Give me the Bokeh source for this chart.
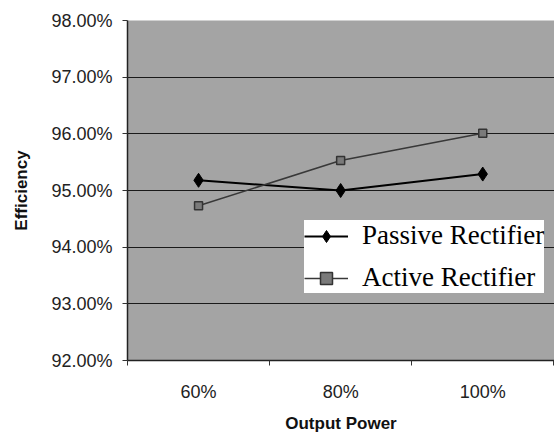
from bokeh.plotting import figure
from bokeh.models import FixedTicker, PrintfTickFormatter, Range1d, Legend, LegendItem
from bokeh.embed import file_html
from bokeh.resources import INLINE

output_power = [60, 80, 100]
power_labels = ["60%", "80%", "100%"]
passive = [95.18, 95.00, 95.29]
active = [94.73, 95.53, 96.01]
y_ticks = [92, 93, 94, 95, 96, 97, 98]

p = figure(width=554, height=437, output_backend="svg", toolbar_location=None,
           x_range=Range1d(50, 110.1), y_range=Range1d(92, 98),
           min_border_left=127, min_border_top=20, min_border_bottom=77, min_border_right=0)

p.background_fill_color = "#a4a4a4"
p.border_fill_color = "white"
p.outline_line_color = None

# y axis
p.yaxis.ticker = FixedTicker(ticks=y_ticks, minor_ticks=[])
p.yaxis.formatter = PrintfTickFormatter(format="%.2f%%")
p.yaxis.axis_label = "Efficiency"
p.yaxis.axis_label_text_font = "Liberation Sans"
p.yaxis.axis_label_text_font_style = "bold"
p.yaxis.axis_label_text_font_size = "17px"
p.yaxis.axis_label_text_color = "#111111"
p.yaxis.axis_label_standoff = 17
p.yaxis.major_label_text_font = "Liberation Sans"
p.yaxis.major_label_text_font_size = "18px"
p.yaxis.major_label_text_color = "#222222"
p.yaxis.major_label_standoff = 10
p.yaxis.major_tick_out = 5
p.yaxis.major_tick_in = 0
p.yaxis.major_tick_line_color = "#333333"
p.yaxis.axis_line_color = "#222222"
p.yaxis.axis_line_width = 1.5

# x axis
p.xaxis.ticker = FixedTicker(ticks=output_power, minor_ticks=[50, 70, 90, 110])
p.xaxis.major_label_overrides = {v: l for v, l in zip(output_power, power_labels)}
p.xaxis.axis_label = "Output Power"
p.xaxis.axis_label_text_font = "Liberation Sans"
p.xaxis.axis_label_text_font_style = "bold"
p.xaxis.axis_label_text_font_size = "17px"
p.xaxis.axis_label_text_color = "#111111"
p.xaxis.axis_label_standoff = 9
p.xaxis.major_label_text_font = "Liberation Sans"
p.xaxis.major_label_text_font_size = "18px"
p.xaxis.major_label_text_color = "#222222"
p.xaxis.major_label_standoff = 16
p.xaxis.major_tick_out = 0
p.xaxis.major_tick_in = 0
p.xaxis.minor_tick_out = 5
p.xaxis.minor_tick_in = 0
p.xaxis.minor_tick_line_color = "#333333"
p.xaxis.axis_line_color = "#222222"
p.xaxis.axis_line_width = 1.5

p.xgrid.grid_line_color = None
p.ygrid.grid_line_color = "#1a1a1a"
p.ygrid.grid_line_width = 1
p.ygrid.ticker = FixedTicker(ticks=y_ticks)

l1 = p.line(output_power, passive, line_color="black", line_width=2)
m1 = p.scatter(output_power, passive, marker="diamond", size=14,
               fill_color="black", line_color="black")
l2 = p.line(output_power, active, line_color="#383838", line_width=1.5)
m2 = p.scatter(output_power, active, marker="square", size=8,
               fill_color="#7a7a7a", line_color="#333333", line_width=1.5)

legend = Legend(items=[LegendItem(label="Passive Rectifier", renderers=[l1, m1]),
                       LegendItem(label="Active Rectifier", renderers=[l2, m2])],
                location=(177, 67))
legend.background_fill_color = "white"
legend.background_fill_alpha = 1
legend.border_line_color = None
legend.label_text_font = "Liberation Serif"
legend.label_text_font_size = "27px"
legend.label_text_color = "black"
legend.glyph_width = 44
legend.glyph_height = 30
legend.label_height = 30
legend.spacing = 11
legend.padding = 18
legend.margin = 0
legend.label_standoff = 14
p.add_layout(legend, "center")

open("out.html", "w").write(file_html(p, INLINE))
